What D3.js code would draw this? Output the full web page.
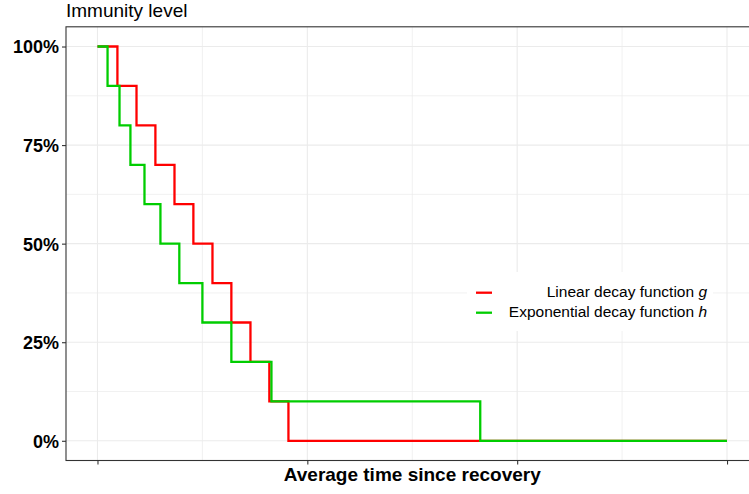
<!DOCTYPE html>
<html>
<head>
<meta charset="utf-8">
<script src="https://cdn.jsdelivr.net/npm/d3@7"></script>
<style>
  html, body { margin: 0; padding: 0; background: #fff; }
  svg { display: block; font-family: "Liberation Sans", Arial, Helvetica, sans-serif; }
</style>
</head>
<body>
<svg id="chart" width="749" height="494"></svg>
<script>
// ---- data ----
const seriesNames = ["Linear decay function", "Exponential decay function"];
const seriesSymbols = ["g", "h"];
const seriesColors = ["#ff0000", "#00cd00"];
// time (x) at which each level starts; levels are immunity fractions
const linearTimes = [0, 9.5, 18.6, 27.6, 36.7, 45.7, 54.8, 63.8, 72.9, 81.9, 91.0, 300];
const linearLevels = [1.0, 0.9, 0.8, 0.7, 0.6, 0.5, 0.4, 0.3, 0.2, 0.1, 0.0, 0.0];
const expTimes = [0, 4.8, 10.5, 15.7, 22.4, 30.0, 39.0, 50.0, 63.8, 82.9, 182.4, 300];
const expLevels = [1.0, 0.9, 0.8, 0.7, 0.6, 0.5, 0.4, 0.3, 0.2, 0.1, 0.0, 0.0];
const xTicks = [0, 100, 200, 300];
const xMinorTicks = [50, 150, 250];
const yTicks = [0, 0.25, 0.5, 0.75, 1.0];
const yTickLabels = ["0%", "25%", "50%", "75%", "100%"];
const yMinorTicks = [0.125, 0.375, 0.625, 0.875];

// ---- layout ----
const svg = d3.select("#chart");
const panel = { left: 66, top: 26.8, right: 758.5, bottom: 460.5 };

const x = d3.scaleLinear().domain([-15, 315]).range([panel.left, panel.right]);
const y = d3.scaleLinear().domain([-0.05, 1.05]).range([panel.bottom, panel.top]);

svg.append("defs").append("clipPath").attr("id", "clip")
  .append("rect")
  .attr("x", panel.left).attr("y", panel.top)
  .attr("width", panel.right - panel.left).attr("height", panel.bottom - panel.top);

const grid = svg.append("g").attr("clip-path", "url(#clip)");
// minor grid
grid.selectAll("line.ymin").data(yMinorTicks).join("line")
  .attr("x1", panel.left).attr("x2", panel.right)
  .attr("y1", d => y(d)).attr("y2", d => y(d))
  .attr("stroke", "#ebebeb").attr("stroke-width", 0.7);
grid.selectAll("line.xmin").data(xMinorTicks).join("line")
  .attr("y1", panel.top).attr("y2", panel.bottom)
  .attr("x1", d => x(d)).attr("x2", d => x(d))
  .attr("stroke", "#ebebeb").attr("stroke-width", 0.7);
// major grid
grid.selectAll("line.ymaj").data(yTicks).join("line")
  .attr("x1", panel.left).attr("x2", panel.right)
  .attr("y1", d => y(d)).attr("y2", d => y(d))
  .attr("stroke", "#ebebeb").attr("stroke-width", 1.1);
grid.selectAll("line.xmaj").data(xTicks).join("line")
  .attr("y1", panel.top).attr("y2", panel.bottom)
  .attr("x1", d => x(d)).attr("x2", d => x(d))
  .attr("stroke", "#ebebeb").attr("stroke-width", 1.1);

// ---- lines ----
const line = d3.line().curve(d3.curveStepAfter)
  .x(d => x(d[0])).y(d => y(d[1]));
const series = [
  d3.zip(linearTimes, linearLevels),
  d3.zip(expTimes, expLevels)
];
const lines = svg.append("g").attr("clip-path", "url(#clip)");
series.forEach((s, i) => {
  lines.append("path").datum(s)
    .attr("d", line)
    .attr("fill", "none")
    .attr("stroke", seriesColors[i])
    .attr("stroke-width", 2.3)
    .attr("stroke-linejoin", "miter")
    .attr("stroke-linecap", "butt");
});

// ---- panel border ----
svg.append("rect")
  .attr("x", panel.left).attr("y", panel.top)
  .attr("width", panel.right - panel.left).attr("height", panel.bottom - panel.top)
  .attr("fill", "none").attr("stroke", "#333333").attr("stroke-width", 1.1);

// ---- axes ----
const yAxis = d3.axisLeft(y).tickValues(yTicks)
  .tickFormat((d, i) => yTickLabels[i]).tickSize(4).tickPadding(3);
const gy = svg.append("g").attr("transform", `translate(${panel.left},0)`).call(yAxis);
gy.select(".domain").remove();
gy.selectAll(".tick line").attr("stroke", "#333333").attr("stroke-width", 1.1);
gy.selectAll(".tick text").attr("fill", "#000").attr("font-size", 18)
  .attr("font-weight", "bold").attr("font-family", "Liberation Sans, Arial, sans-serif")
  .attr("dy", "0.36em");

const xAxis = d3.axisBottom(x).tickValues(xTicks).tickFormat("").tickSize(4);
const gx = svg.append("g").attr("transform", `translate(0,${panel.bottom})`).call(xAxis);
gx.select(".domain").remove();
gx.selectAll(".tick line").attr("stroke", "#333333").attr("stroke-width", 1.1);

// ---- titles ----
svg.append("text")
  .attr("x", panel.left).attr("y", 17)
  .attr("font-size", 19).attr("fill", "#000")
  .text("Immunity level");

svg.append("text")
  .attr("x", (panel.left + panel.right) / 2).attr("y", 481)
  .attr("text-anchor", "middle")
  .attr("font-size", 19).attr("font-weight", "bold").attr("fill", "#000")
  .text("Average time since recovery");

// ---- legend ----
const legend = svg.append("g");
legend.append("rect")
  .attr("x", 467).attr("y", 272).attr("width", 246).attr("height", 59)
  .attr("fill", "#fff");
const legY = [292.7, 312.7];
seriesNames.forEach((name, i) => {
  legend.append("line")
    .attr("x1", 476).attr("x2", 492)
    .attr("y1", legY[i]).attr("y2", legY[i])
    .attr("stroke", seriesColors[i]).attr("stroke-width", 2.3);
  const t = legend.append("text")
    .attr("x", 707).attr("y", legY[i] + 4.5)
    .attr("text-anchor", "end")
    .attr("font-size", 15.5).attr("fill", "#000");
  t.append("tspan").text(name + " ");
  t.append("tspan").attr("font-style", "italic").text(seriesSymbols[i]);
});
</script>
</body>
</html>
